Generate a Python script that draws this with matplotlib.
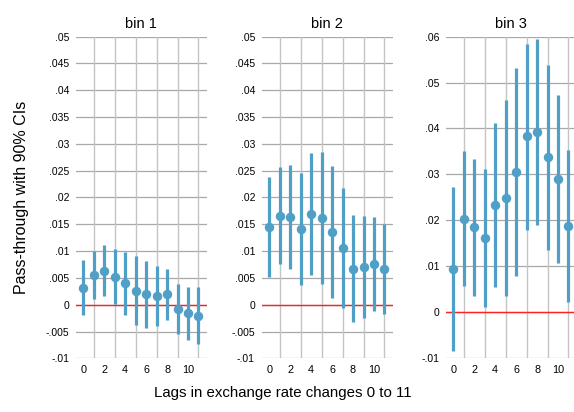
import matplotlib.pyplot as plt
import numpy as np

plt.rcParams['font.family'] = ['Liberation Sans', 'DejaVu Sans']

lags = list(range(12))

# bin 1
bin1_est = [0.0031, 0.0055, 0.0062, 0.0052, 0.0040, 0.0026, 0.0019, 0.0017, 0.0019, -0.0008, -0.0016, -0.0021]
bin1_lo = [-0.0020, 0.0011, 0.0017, 0.0001, -0.0019, -0.0038, -0.0043, -0.0039, -0.0029, -0.0054, -0.0066, -0.0073]
bin1_hi = [0.0083, 0.0100, 0.0111, 0.0103, 0.0099, 0.0090, 0.0081, 0.0073, 0.0067, 0.0038, 0.0033, 0.0033]

# bin 2
bin2_est = [0.0145, 0.0165, 0.0163, 0.0141, 0.0169, 0.0161, 0.0135, 0.0106, 0.0067, 0.0070, 0.0076, 0.0067]
bin2_lo = [0.0051, 0.0075, 0.0066, 0.0036, 0.0056, 0.0038, 0.0013, -0.0006, -0.0033, -0.0024, -0.0011, -0.0017]
bin2_hi = [0.0239, 0.0256, 0.0260, 0.0245, 0.0283, 0.0284, 0.0258, 0.0218, 0.0167, 0.0166, 0.0163, 0.0150]

# bin 3
bin3_est = [0.0094, 0.0203, 0.0185, 0.0161, 0.0233, 0.0249, 0.0305, 0.0383, 0.0393, 0.0337, 0.0291, 0.0187]
bin3_lo = [-0.0084, 0.0057, 0.0036, 0.0012, 0.0055, 0.0035, 0.0078, 0.0180, 0.0191, 0.0135, 0.0107, 0.0022]
bin3_hi = [0.0272, 0.0350, 0.0334, 0.0311, 0.0411, 0.0461, 0.0532, 0.0584, 0.0594, 0.0539, 0.0473, 0.0354]

titles = ["bin 1", "bin 2", "bin 3"]
yticks1 = [-0.01, -0.005, 0, 0.005, 0.01, 0.015, 0.02, 0.025, 0.03, 0.035, 0.04, 0.045, 0.05]
yticks3 = [-0.01, 0, 0.01, 0.02, 0.03, 0.04, 0.05, 0.06]
xticks = [0, 2, 4, 6, 8, 10]


def fmt(v):
    if abs(v) < 1e-12:
        return "0"
    s = ("%.3f" % v).rstrip("0")
    return s.replace("0.", ".", 1)


datos = [
    (bin1_est, bin1_lo, bin1_hi, yticks1),
    (bin2_est, bin2_lo, bin2_hi, yticks1),
    (bin3_est, bin3_lo, bin3_hi, yticks3),
]

fig = plt.figure(figsize=(5.74, 4.12), dpi=100)
lefts = [0.1324, 0.4564, 0.777]
azul = "#4f9fc7"

for i, (est, lo, hi, yt) in enumerate(datos):
    ax = fig.add_axes([lefts[i], 0.1303, 0.228, 0.781])
    for s in ax.spines.values():
        s.set_visible(False)
    # rejilla
    for y in yt:
        ax.axhline(y, color="#a8a8a8", lw=0.9, zorder=0)
    for x in [1, 3, 5, 7, 9, 11]:
        ax.axvline(x, color="#c4c4c4", lw=1.0, zorder=0)
    ax.axhline(0, color="#ff2020", lw=1.0, zorder=1)

    est = np.array(est)
    ax.vlines(lags, lo, hi, color=azul, lw=2.3, zorder=2)
    ax.plot(lags, est, "o", color=azul, ms=5.8, zorder=3)

    ax.set_xlim(-0.7, 11.8)
    ax.set_ylim(yt[0], yt[-1])
    ax.set_yticks(yt)
    ax.set_yticklabels([fmt(v) for v in yt], fontsize=7.5)
    ax.set_xticks(xticks)
    ax.set_xticklabels([str(x) for x in xticks], fontsize=7.8)
    ax.tick_params(axis="both", length=0, pad=5)
    ax.set_title(titles[i], fontsize=10.5, pad=6)

fig.text(0.038, 0.52, "Pass-through with 90% CIs", rotation=90,
         ha="center", va="center", fontsize=11.5)
fig.text(0.492, 0.046, "Lags in exchange rate changes 0 to 11",
         ha="center", va="center", fontsize=10.8)

fig.savefig("out.png", dpi=100)
